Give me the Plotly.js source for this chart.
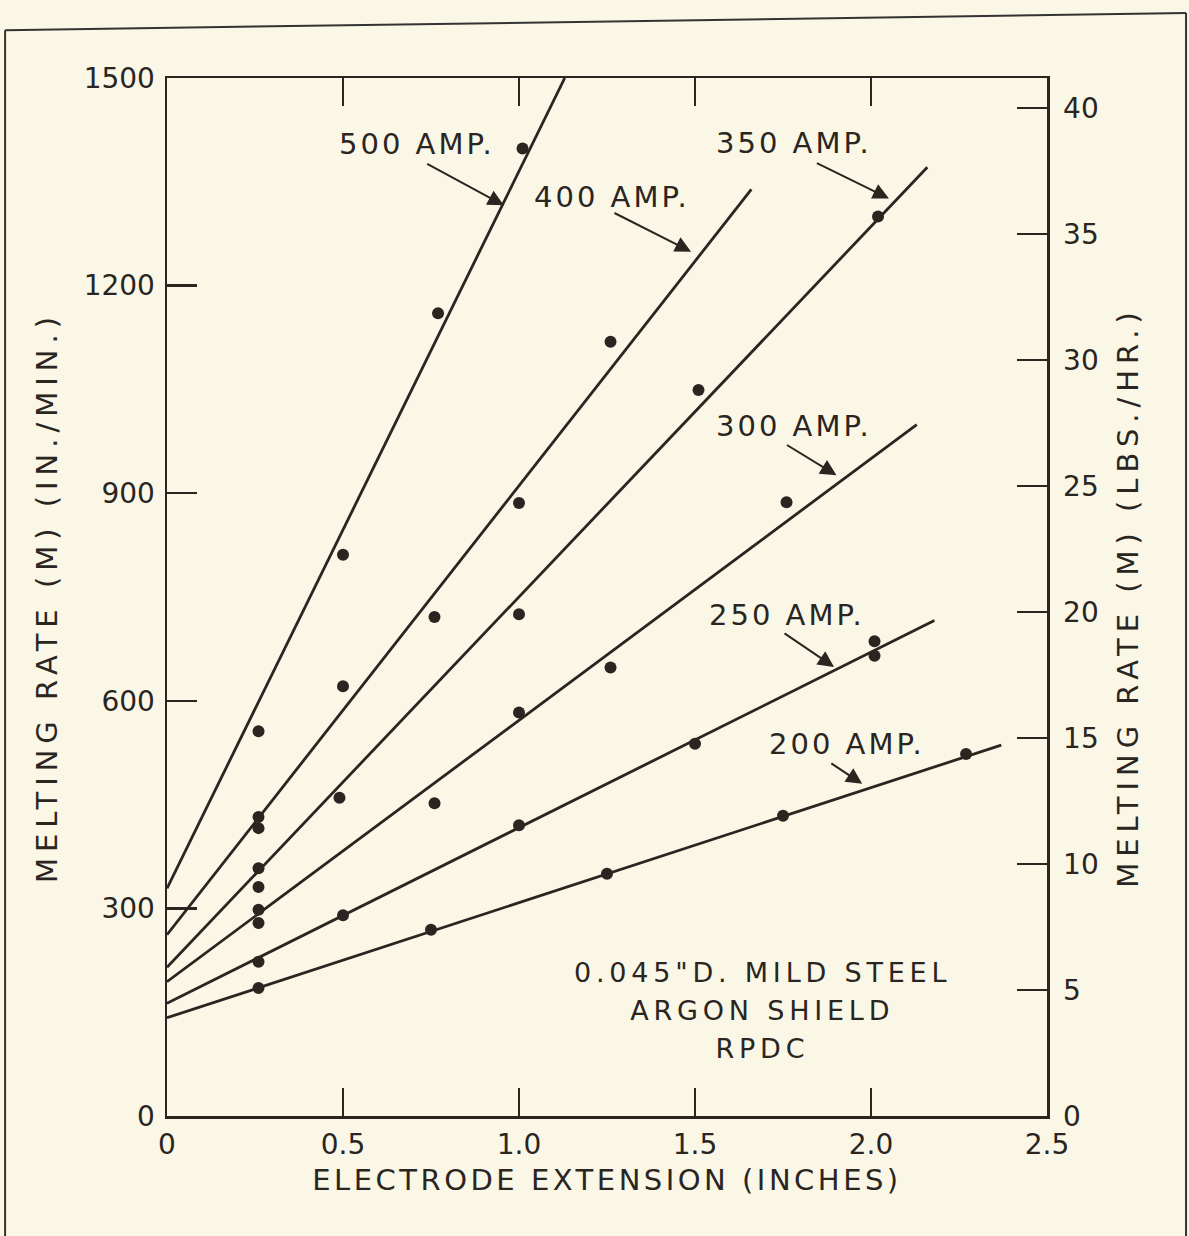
<!DOCTYPE html>
<html>
<head>
<meta charset="utf-8">
<script src="https://cdn.plot.ly/plotly-3.0.1.min.js"></script>
<style>
  html, body { margin: 0; padding: 0; background: #faf7e7; }
  #chart { width: 1189px; height: 1236px; }
  .xtitle { letter-spacing: 3.5px; }
  .ytitle, .y2title { letter-spacing: 6px; }
  .annotation-text { letter-spacing: 3px; }
  .annotation[data-index="12"] .annotation-text,
  .annotation[data-index="13"] .annotation-text,
  .annotation[data-index="14"] .annotation-text { letter-spacing: 4.8px; }
</style>
</head>
<body>
<div id="chart"></div>
<script>
// ---- data ----
const amps = ['200 AMP.', '250 AMP.', '300 AMP.', '350 AMP.', '400 AMP.', '500 AMP.'];

// fitted straight lines (start at x = 0, end where the drawn line ends)
const fit200X = [0, 2.37], fit200Y = [142, 536];
const fit250X = [0, 2.18], fit250Y = [163, 716];
const fit300X = [0, 2.13], fit300Y = [194, 999];
const fit350X = [0, 2.16], fit350Y = [215, 1371];
const fit400X = [0, 1.66], fit400Y = [262, 1339];
const fit500X = [0, 1.13], fit500Y = [329, 1500];

// measured points
const pts200X = [0.26, 0.75, 1.25, 1.75, 2.27];
const pts200Y = [185, 269, 350, 434, 523];
const pts250X = [0.26, 0.5, 1.0, 1.5, 2.01, 2.01];
const pts250Y = [223, 290, 420, 538, 665, 686];
const pts300X = [0.26, 0.26, 0.76, 1.0, 1.26, 1.76];
const pts300Y = [298, 279, 452, 583, 648, 887];
const pts350X = [0.26, 0.26, 0.49, 1.0, 1.51, 2.02];
const pts350Y = [358, 331, 460, 725, 1049, 1300];
const pts400X = [0.26, 0.26, 0.5, 0.76, 1.0, 1.26];
const pts400Y = [432, 416, 621, 721, 886, 1119];
const pts500X = [0.26, 0.5, 0.77, 1.01];
const pts500Y = [556, 811, 1160, 1398];

// ticks
const xTickVals = [0, 0.5, 1.0, 1.5, 2.0, 2.5];
const xTickText = ['0', '0.5', '1.0', '1.5', '2.0', '2.5'];
const yTickVals = [0, 300, 600, 900, 1200, 1500];
const yTickText = ['0', '300', '600', '900', '1200', '1500'];
const y2TickVals = [0, 5, 10, 15, 20, 25, 30, 35, 40];
const y2TickText = ['0', '5', '10', '15', '20', '25', '30', '35', '40'];

// ---- styling ----
const INK = '#2a2521';
const BG = '#faf7e7';
const FONT = 'DejaVu Sans, sans-serif';

const fits = [[fit200X, fit200Y], [fit250X, fit250Y], [fit300X, fit300Y],
              [fit350X, fit350Y], [fit400X, fit400Y], [fit500X, fit500Y]];
const pts = [[pts200X, pts200Y], [pts250X, pts250Y], [pts300X, pts300Y],
             [pts350X, pts350Y], [pts400X, pts400Y], [pts500X, pts500Y]];

const traces = [];
fits.forEach((f, i) => {
  traces.push({
    x: f[0], y: f[1], type: 'scatter', mode: 'lines', name: amps[i],
    line: { color: INK, width: 2.8 }, hoverinfo: 'skip', showlegend: false
  });
});
pts.forEach((p, i) => {
  traces.push({
    x: p[0], y: p[1], type: 'scatter', mode: 'markers', name: amps[i] + ' data',
    marker: { color: INK, size: 12 }, showlegend: false
  });
});
// invisible trace to activate the right axis
traces.push({ x: [0], y: [0], yaxis: 'y2', type: 'scatter', mode: 'markers',
  marker: { opacity: 0 }, hoverinfo: 'skip', showlegend: false });

// label positions (data coords): [text, x, y]
const labelPos = [
  ['500 AMP.', 0.709, 1405],
  ['400 AMP.', 1.264, 1328],
  ['350 AMP.', 1.780, 1406],
  ['300 AMP.', 1.780, 997],
  ['250 AMP.', 1.760, 724],
  ['200 AMP.', 1.931, 538]
];
// arrows: [tailX, tailY, headX, headY]
const arrowPos = [
  [0.735, 1377, 0.957, 1316],
  [1.267, 1306, 1.489, 1249],
  [1.842, 1378, 2.051, 1326],
  [1.757, 971, 1.902, 926],
  [1.750, 699, 1.895, 649],
  [1.883, 511, 1.975, 480]
];

const annotations = [];
labelPos.forEach(l => {
  annotations.push({ text: l[0], x: l[1], y: l[2], xref: 'x', yref: 'y',
    showarrow: false, font: { family: FONT, size: 29, color: INK } });
});
arrowPos.forEach(a => {
  annotations.push({ text: '', x: a[2], y: a[3], ax: a[0], ay: a[1],
    xref: 'x', yref: 'y', axref: 'x', ayref: 'y', showarrow: true,
    arrowhead: 2, arrowsize: 1.6, arrowwidth: 2, arrowcolor: INK, standoff: 0 });
});
const noteLines = [['0.045"D. MILD STEEL', 208], ['ARGON SHIELD', 153], ['RPDC', 98]];
noteLines.forEach(n => {
  annotations.push({ text: n[0], x: 1.691, y: n[1], xref: 'x', yref: 'y',
    showarrow: false, font: { family: FONT, size: 27, color: INK } });
});

// outer frame (paper coords)
const frame = [
  { type: 'line', xref: 'paper', yref: 'paper', x0: -0.184, y0: 1.046, x1: -0.184, y1: -0.12 },
  { type: 'line', xref: 'paper', yref: 'paper', x0: -0.184, y0: 1.046, x1: 1.158, y1: 1.0626 },
  { type: 'line', xref: 'paper', yref: 'paper', x0: 1.158, y0: 1.0626, x1: 1.158, y1: -0.12 }
].map(s => Object.assign(s, { line: { color: '#333', width: 2 } }));

const axisCommon = {
  showgrid: false, zeroline: false, showline: true, linecolor: INK, linewidth: 2.5,
  ticks: 'inside', ticklen: 30, tickwidth: 2.5, tickcolor: INK,
  tickfont: { family: FONT, size: 28, color: INK }
};

const layout = {
  width: 1189, height: 1236,
  margin: { l: 167, r: 142, t: 78, b: 120 },
  paper_bgcolor: BG, plot_bgcolor: BG,
  showlegend: false,
  xaxis: Object.assign({}, axisCommon, {
    range: [0, 2.5], tickmode: 'array', tickvals: xTickVals, ticktext: xTickText,
    mirror: 'ticks', ticklen: 28, ticklabelstandoff: 2,
    title: { text: 'ELECTRODE EXTENSION (INCHES)', standoff: 10,
      font: { family: FONT, size: 29, color: INK } }
  }),
  yaxis: Object.assign({}, axisCommon, {
    range: [0, 1500], tickmode: 'array', tickvals: yTickVals, ticktext: yTickText,
    mirror: false, ticklabelstandoff: 4,
    title: { text: 'MELTING RATE (M) (IN./MIN.)', standoff: 18,
      font: { family: FONT, size: 29, color: INK } }
  }),
  yaxis2: Object.assign({}, axisCommon, {
    range: [0, 41.2], overlaying: 'y', side: 'right',
    tickmode: 'array', tickvals: y2TickVals, ticktext: y2TickText, ticklabelstandoff: 8,
    title: { text: 'MELTING RATE (M) (LBS./HR.)', standoff: 20,
      font: { family: FONT, size: 29, color: INK } }
  }),
  annotations: annotations,
  shapes: frame
};

Plotly.newPlot('chart', traces, layout, { displayModeBar: false, staticPlot: true });
</script>
</body>
</html>
